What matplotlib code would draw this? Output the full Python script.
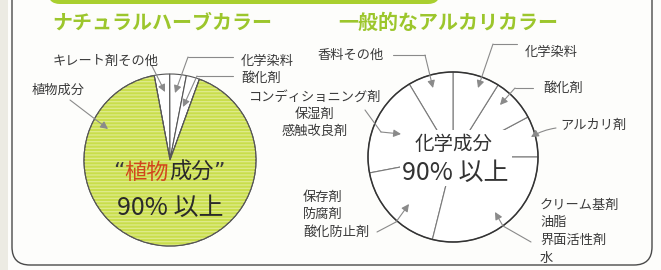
import matplotlib
matplotlib.use('Agg')
import matplotlib.pyplot as plt
from matplotlib.patches import FancyBboxPatch, Circle, Rectangle, Wedge

plt.rcParams['font.family'] = ['Noto Sans CJK JP', 'DejaVu Sans']
plt.rcParams['hatch.linewidth'] = 0.9

# ---------------- data ----------------
herb_title = 'ナチュラルハーブカラー'
herb_labels = ['キレート剤その他', '化学染料', '酸化剤', '植物成分']
herb_values = [2.9, 3.1, 2.5, 91.5]
herb_center = ['“', '植物', '成分', '”']
herb_main = '90% 以上'

alk_title = '一般的なアルカリカラー'
alk_labels = ['アルカリ剤', '酸化剤', '化学染料', '香料その他',
              'コンディショニング剤\n保湿剤\n感触改良剤',
              '保存剤\n防腐剤\n酸化防止剤',
              'クリーム基剤\n油脂\n界面活性剤\n水']
alk_values = [7.8, 8.3, 8.9, 8.6, 19.4, 18.1, 28.9]
alk_center = '化学成分'
alk_main = '90% 以上'

# ---------------- style ----------------
W, H = 661, 270
GREEN_T = '#9cc62c'
GREEN_F = '#c9de4c'
GREEN_S = '#dfeb8c'
TXT = '#3a3a3a'
ARW = '#8a8a8a'


def Y(y):
    return H - y


fig = plt.figure(figsize=(W / 100, H / 100), dpi=100)
ax = fig.add_axes([0, 0, 1, 1])
fig.patch.set_facecolor('#fdfdfb')

# left pie
lc = (170, Y(160))
lw_, _ = ax.pie(herb_values, colors=['white', 'white', 'white', GREEN_F],
                startangle=100.6, counterclock=False, radius=86, center=lc,
                wedgeprops=dict(edgecolor='#555555', linewidth=0.8))
w = lw_[3]
ax.add_patch(Wedge(w.center, w.r, w.theta1, w.theta2, facecolor='none',
                   edgecolor=GREEN_S, hatch='-----', linewidth=0, zorder=1.5))
ax.add_patch(Wedge(w.center, w.r, w.theta1, w.theta2, facecolor='none',
                   edgecolor='#555555', linewidth=0.8, zorder=1.6))

# right pie
rc = (453, Y(157))
rw_, _ = ax.pie(alk_values, colors=['white'] * len(alk_values),
                startangle=0, counterclock=True, radius=85, center=rc,
                wedgeprops=dict(edgecolor='#7a7a7a', linewidth=0.8))
ax.add_patch(Rectangle((rc[0] - 53, rc[1] - 29), 112, 56, facecolor='white',
                       edgecolor='none', zorder=2))
ax.add_patch(Circle(rc, 85, facecolor='none', edgecolor='#333333', lw=1.1, zorder=3))

ax.set_xlim(0, W)
ax.set_ylim(0, H)
ax.set_aspect('auto')
ax.axis('off')

# frame, banner, edge strip
ax.add_patch(Rectangle((0, 0), 8, H, facecolor='#ecebe3', edgecolor='none', zorder=0))
ax.add_patch(FancyBboxPatch((12, 5), 640, 320,
                            boxstyle='round,pad=0,rounding_size=18',
                            fill=False, edgecolor='#4a4a4a', lw=1.0, zorder=1))
ax.add_patch(FancyBboxPatch((48, Y(4)), 392, 40,
                            boxstyle='round,pad=0,rounding_size=12',
                            facecolor='#a9cf2f', edgecolor='none', zorder=1))

# titles
ax.text(52, Y(22), herb_title, fontsize=14.4, fontweight='bold', color=GREEN_T,
        ha='left', va='center', zorder=5)
ax.text(338, Y(22), alk_title, fontsize=14.4, fontweight='bold', color=GREEN_T,
        ha='left', va='center', zorder=5)

FS = 9.5


def label(text, x, y, ha='left', step=17.5):
    for i, line in enumerate(text.split('\n')):
        ax.text(x, Y(y + i * step), line, fontsize=FS, color=TXT, ha=ha,
                va='center', zorder=5)


def arrow(pts, rad=0.0):
    pts = [(x, Y(y)) for x, y in pts]
    if len(pts) > 2:
        ax.plot([p[0] for p in pts[:-1]], [p[1] for p in pts[:-1]],
                color=ARW, lw=0.8, zorder=4, solid_capstyle='round')
    ax.annotate('', xy=pts[-1], xytext=pts[-2],
                arrowprops=dict(arrowstyle='-|>', color=ARW, lw=0.8,
                                mutation_scale=11, shrinkA=0, shrinkB=0,
                                connectionstyle=f'arc3,rad={rad}'), zorder=4)


# left labels
label(herb_labels[0], 53, 61)
label(herb_labels[1], 241, 61)
label(herb_labels[2], 241, 78)
label(herb_labels[3], 32, 90)
arrow([(152, 66), (165, 92)])
arrow([(233, 57), (188, 57), (175, 93)])
arrow([(233, 76), (197, 76), (183, 107)])
arrow([(70, 100), (108, 129)])

# right labels
label(alk_labels[0], 560, 125)
label(alk_labels[1], 543, 88)
label(alk_labels[2], 525, 52)
label(alk_labels[3], 318, 55)
label(alk_labels[4], 315, 97, ha='center', step=17)
label(alk_labels[5], 303, 197, step=17.5)
label(alk_labels[6], 540, 205, step=17.7)
arrow([(393, 55), (425, 55), (433, 88)])
arrow([(517, 44), (493, 44), (478, 88)])
arrow([(533, 88), (515, 88), (500, 105)])
arrow([(556, 128), (531, 137)], rad=0.1)
arrow([(365, 110), (381, 132), (401, 134)])
arrow([(377, 232), (396, 222), (409, 204)])
arrow([(531, 242), (503, 226), (495, 212)])

# center texts (left) with coloured part
fig.canvas.draw()
renderer = fig.canvas.get_renderer()
colors = [TXT, '#d2461c', '#2a2a2a', TXT]
fams = [['DejaVu Sans'], ['Noto Sans CJK JP'], ['Noto Sans CJK JP'], ['DejaVu Sans']]
objs = []
widths = []
for s, c, f in zip(herb_center, colors, fams):
    t = ax.text(0, Y(172), s, fontsize=16, color=c, family=f, ha='left',
                va='center', zorder=5)
    bb = t.get_window_extent(renderer)
    objs.append(t)
    widths.append(bb.width)
x0 = 169 - sum(widths) / 2
for t, wdt in zip(objs, widths):
    t.set_x(x0)
    x0 += wdt
ax.text(170, Y(208), herb_main, fontsize=18, color='#2a2a2a', ha='center',
        va='center', zorder=5)

# center texts (right)
ax.text(454, Y(145), alk_center, fontsize=14, color='#333333', ha='center',
        va='center', zorder=5)
ax.text(455, Y(173), alk_main, fontsize=18, color='#333333', ha='center',
        va='center', zorder=5)

fig.savefig('out.png', dpi=100, facecolor=fig.get_facecolor())
